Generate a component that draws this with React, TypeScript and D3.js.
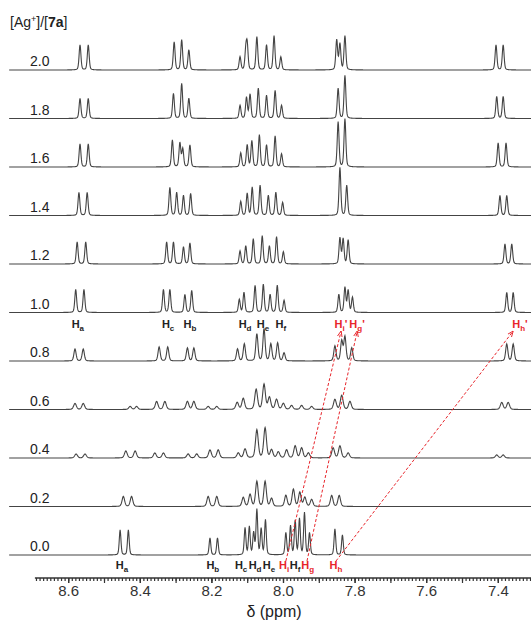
import React, { useEffect, useRef } from 'react';
import * as d3 from 'd3';

// titration ratios, bottom to top
const ratios = ['0.0', '0.2', '0.4', '0.6', '0.8', '1.0', '1.2', '1.4', '1.6', '1.8', '2.0'];

// [ppm, intensity]
const peaks00 = [[8.455, 25], [8.432, 25], [8.204, 17], [8.183, 17], [8.106, 27], [8.094, 28], [8.082, 22], [8.073, 45], [8.061, 26], [8.049, 35], [7.992, 22], [7.979, 29], [7.966, 34], [7.954, 36], [7.940, 42], [7.926, 22], [7.855, 26], [7.834, 20]];
const peaks02 = [[8.446, 10], [8.423, 10], [8.209, 10], [8.185, 10], [8.111, 9], [8.092, 12], [8.073, 25], [8.050, 25], [8.032, 8], [7.992, 11], [7.971, 17], [7.953, 14], [7.939, 9], [7.920, 7], [7.864, 11], [7.843, 11]];
const peaks04 = [[8.578, 4], [8.553, 4], [8.439, 7], [8.413, 7], [8.358, 5], [8.334, 5], [8.265, 4], [8.241, 4], [8.204, 8], [8.181, 8], [8.125, 5], [8.106, 9], [8.073, 28], [8.050, 30], [8.032, 8], [8.013, 6], [7.990, 8], [7.966, 12], [7.948, 10], [7.929, 5], [7.860, 10], [7.841, 12], [7.818, 5], [7.403, 3], [7.385, 3]];
const peaks06 = [[8.581, 6], [8.558, 6], [8.427, 3], [8.409, 3], [8.353, 8], [8.330, 8], [8.267, 8], [8.249, 8], [8.209, 3], [8.185, 3], [8.128, 7], [8.111, 11], [8.075, 20], [8.053, 25], [8.038, 12], [8.018, 10], [7.999, 6], [7.976, 4], [7.948, 4], [7.920, 3], [7.855, 10], [7.836, 14], [7.813, 8], [7.389, 7], [7.371, 7]];
const peaks08 = [[8.581, 12], [8.558, 12], [8.346, 14], [8.322, 14], [8.267, 13], [8.249, 13], [8.127, 12], [8.108, 17], [8.073, 27], [8.053, 32], [8.034, 17], [8.015, 18], [7.997, 8], [7.855, 15], [7.836, 20], [7.827, 24], [7.808, 13], [7.375, 17], [7.357, 17]];
const peaks10 = [[8.579, 23], [8.556, 23], [8.334, 23], [8.316, 23], [8.274, 18], [8.255, 22], [8.122, 13], [8.109, 20], [8.078, 27], [8.055, 28], [8.036, 18], [8.016, 27], [7.997, 12], [7.844, 18], [7.827, 25], [7.818, 22], [7.806, 15], [7.375, 20], [7.357, 20]];
const peaks12 = [[8.575, 22], [8.551, 22], [8.325, 22], [8.306, 22], [8.278, 17], [8.260, 21], [8.120, 13], [8.104, 18], [8.083, 25], [8.058, 28], [8.038, 18], [8.018, 27], [7.999, 12], [7.841, 26], [7.832, 25], [7.818, 24], [7.380, 20], [7.361, 20]];
const peaks14 = [[8.570, 23], [8.547, 23], [8.316, 28], [8.297, 23], [8.278, 20], [8.258, 22], [8.118, 14], [8.100, 22], [8.086, 28], [8.064, 30], [8.041, 20], [8.020, 23], [8.001, 13], [7.841, 48], [7.822, 30], [7.394, 20], [7.375, 20]];
const peaks16 = [[8.567, 23], [8.544, 23], [8.309, 27], [8.288, 24], [8.280, 18], [8.260, 22], [8.118, 14], [8.100, 22], [8.087, 26], [8.066, 32], [8.046, 22], [8.022, 31], [8.004, 13], [7.846, 45], [7.827, 48], [7.399, 24], [7.377, 24]];
const peaks18 = [[8.567, 20], [8.544, 20], [8.306, 25], [8.283, 35], [8.263, 20], [8.120, 13], [8.102, 21], [8.092, 24], [8.069, 30], [8.046, 23], [8.022, 28], [8.004, 13], [7.846, 30], [7.827, 43], [7.403, 22], [7.385, 22]];
const peaks20 = [[8.567, 25], [8.544, 25], [8.304, 28], [8.283, 30], [8.263, 20], [8.120, 13], [8.104, 18], [8.100, 24], [8.073, 33], [8.046, 25], [8.025, 34], [8.006, 13], [7.850, 30], [7.841, 26], [7.827, 34], [7.405, 25], [7.385, 25]];
const peakSets = [peaks00, peaks02, peaks04, peaks06, peaks08, peaks10, peaks12, peaks14, peaks16, peaks18, peaks20];
// half width (ppm) per trace
const halfWidths = [0.0028, 0.0042, 0.0045, 0.0045, 0.0036, 0.003, 0.003, 0.003, 0.003, 0.003, 0.003];

// proton labels: [subscript, ppm, red, prime]
const labels10 = [['a', 8.573, false, false], ['c', 8.321, false, false], ['b', 8.260, false, false], ['d', 8.106, false, false], ['e', 8.056, false, false], ['f', 8.006, false, false], ['i', 7.838, true, true], ['g', 7.793, true, true], ['h', 7.338, true, true]];
const labels00 = [['a', 8.450, false, false], ['b', 8.196, false, false], ['c', 8.117, false, false], ['d', 8.078, false, false], ['e', 8.039, false, false], ['i', 7.997, true, false], ['f', 7.966, false, false], ['g', 7.931, true, false], ['h', 7.852, true, false]];

// shift arrows: [from ppm (free), to ppm (complexed)]
const shifts = [[7.992, 7.838], [7.933, 7.793], [7.852, 7.358]];

const tickLabels = [8.6, 8.4, 8.2, 8.0, 7.8, 7.6, 7.4];

const FONT = "Arial, 'Liberation Sans', sans-serif";
const RED = '#e8252b';

const x = d3.scaleLinear().domain([8.0, 7.0]).range([283, 641]);
const baseY = (i: number) => 555 - i * 48.5;

const App = () => {
  const axisRef = useRef<SVGGElement>(null);

  useEffect(() => {
    const g = d3.select(axisRef.current);
    g.selectAll('*').remove();
    const minor = d3.range(0, 139).map((i) => +(8.69 - i * 0.01).toFixed(2));
    const major = d3.range(0, 14).map((i) => +(8.7 - i * 0.1).toFixed(1)).filter((v) => v < 8.695);
    g.append('g').call(d3.axisBottom(x).tickValues(minor).tickSize(3).tickFormat(() => ''));
    g.append('g').call(d3.axisBottom(x).tickValues(major).tickSize(5).tickFormat(() => ''));
    g.append('g')
      .call(d3.axisBottom(x).tickValues(tickLabels).tickSize(5).tickPadding(2).tickFormat(d3.format('.1f')))
      .selectAll('text')
      .style('font-size', '15px')
      .style('font-family', FONT)
      .attr('fill', '#333');
    g.selectAll('.domain').remove();
    g.selectAll('.tick line').attr('stroke', '#333').attr('stroke-width', 1.2);
  }, []);

  const ppmGrid = d3.range(8.765, 7.30, -0.001);

  const traces = peakSets.map((peaks, i) => {
    const w = halfWidths[i];
    const b = baseY(i);
    const line = d3
      .line<number>()
      .x((p) => x(p))
      .y((p) => {
        let s = 0;
        for (const [c, h] of peaks) {
          const d = p - c;
          const lor = (w * w) / (d * d + w * w);
          const gau = Math.exp((-Math.LN2 * d * d) / (w * w));
          s += h * (0.3 * lor + 0.7 * gau);
        }
        return b - s;
      });
    return line(ppmGrid);
  });

  const hLabel = (l: any[], y: number, key: string) => {
    const [sub, ppm, red, prime] = l;
    return (
      <text key={key} x={x(ppm)} y={y} textAnchor="middle" fontSize={11} fontWeight="bold" fontFamily={FONT} fill={red ? RED : '#222'}>
        H<tspan fontSize={8} dy={3}>{sub}</tspan>
        {prime ? <tspan dy={-3}>'</tspan> : null}
      </text>
    );
  };

  return (
    <svg width={531} height={624} style={{ position: 'absolute', left: 0, top: 0, background: '#fff' }}>
      <defs>
        <marker id="arr" viewBox="0 0 10 10" refX="9" refY="5" markerWidth="6" markerHeight="6" orient="auto">
          <path d="M0,1 L10,5 L0,9" fill="none" stroke={RED} strokeWidth={1.5} />
        </marker>
      </defs>
      <text x={10} y={27} fontSize={14} fontFamily={FONT} fill="#222">
        [Ag<tspan fontSize={9} dy={-5}>+</tspan>
        <tspan dy={5}>]/[</tspan>
        <tspan fontWeight="bold">7a</tspan>]
      </text>
      {ratios.map((r, i) => (
        <text key={r} x={30} y={baseY(i) - 4} fontSize={14} fontFamily={FONT} fill="#222">
          {r}
        </text>
      ))}
      {traces.map((d, i) => (
        <path key={i} d={d || ''} fill="none" stroke="#444" strokeWidth={1.1} />
      ))}
      {labels10.map((l, i) => hLabel(l, baseY(5) + 15, 't' + i))}
      {labels00.map((l, i) => hLabel(l, baseY(0) + 14, 'b' + i))}
      {shifts.map(([a, b], i) => (
        <line key={i} x1={x(a)} y1={baseY(0) + 6} x2={x(b)} y2={baseY(5) + 19} stroke={RED} strokeWidth={1} strokeDasharray="3,2" markerEnd="url(#arr)" />
      ))}
      <line x1={x(8.693)} x2={531} y1={578} y2={578} stroke="#333" strokeWidth={1.5} />
      <g ref={axisRef} transform="translate(0,578)" />
      <text x={274} y={617} textAnchor="middle" fontSize={16} fontFamily={FONT} fill="#222">
        δ (ppm)
      </text>
    </svg>
  );
};

export default App;
